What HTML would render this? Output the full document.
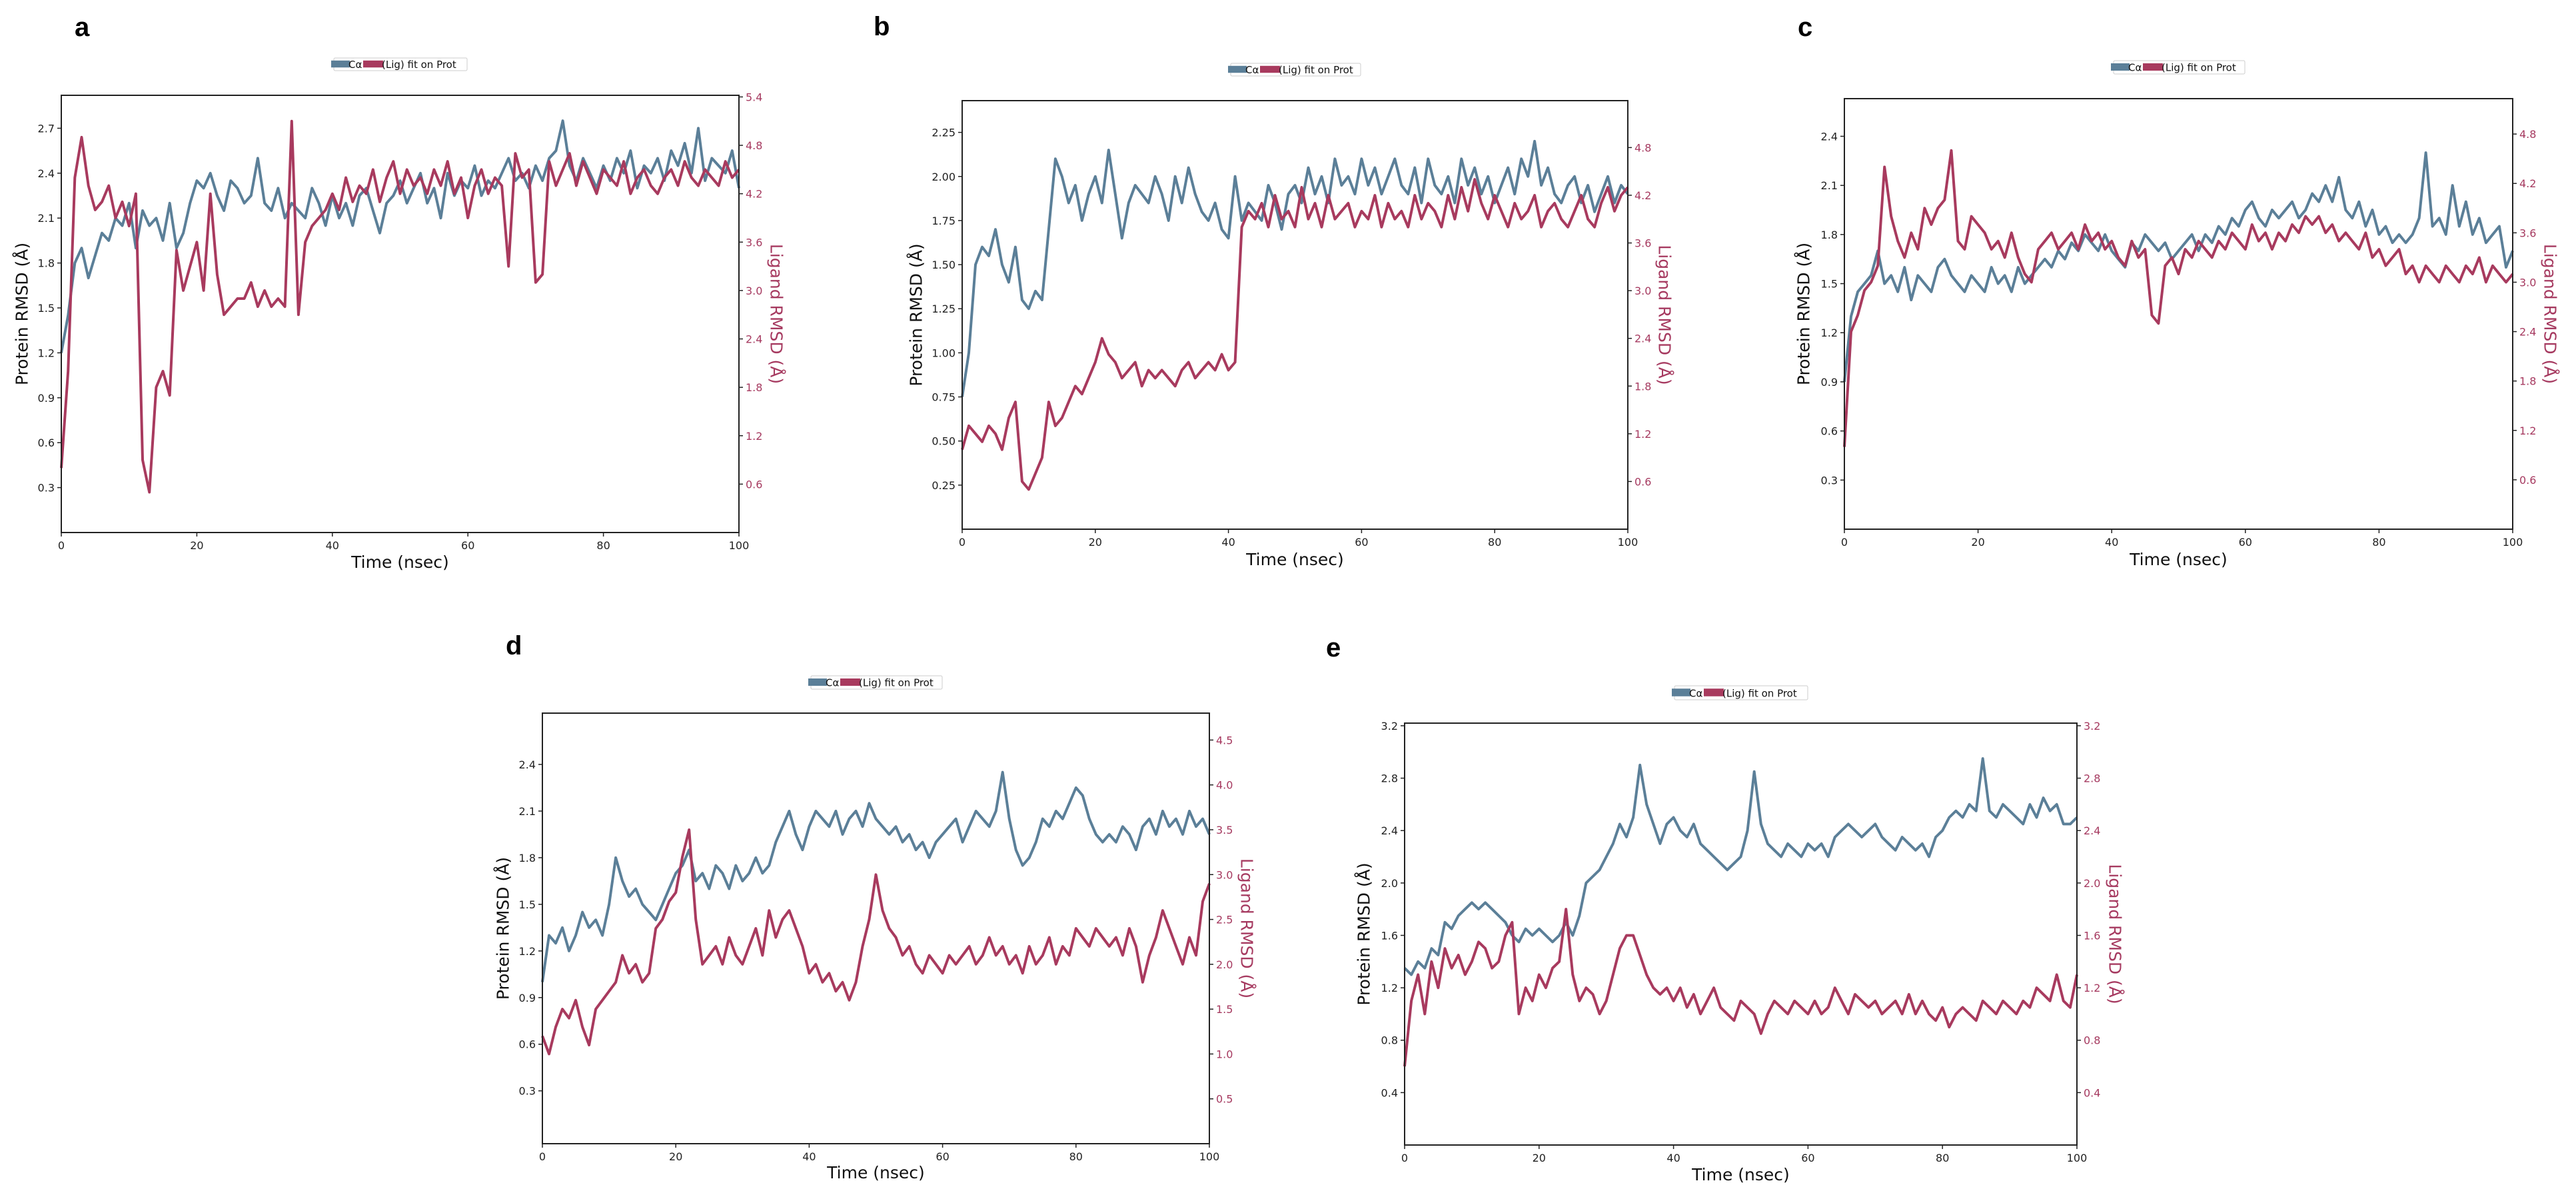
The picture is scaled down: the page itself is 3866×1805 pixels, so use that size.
<!DOCTYPE html>
<html><head><meta charset="utf-8">
<style>
html,body{margin:0;padding:0;background:#fff;}
svg{display:block;font-family:"DejaVu Sans","Liberation Sans",sans-serif;}
</style></head>
<body>
<svg id="fig" width="3866" height="1805" viewBox="0 0 3866 1805" xmlns="http://www.w3.org/2000/svg"></svg>
<script>
// ---- data (time in ns, 1 ns step) ----
const timeNs = Array.from({length:101},(_,i)=>i);
const protA = [1.2,1.45,1.8,1.9,1.7,1.85,2.0,1.95,2.1,2.05,2.2,1.9,2.15,2.05,2.1,1.95,2.2,1.9,2.0,2.2,2.35,2.3,2.4,2.25,2.15,2.35,2.3,2.2,2.25,2.5,2.2,2.15,2.3,2.1,2.2,2.15,2.1,2.3,2.2,2.05,2.25,2.1,2.2,2.05,2.25,2.3,2.15,2.0,2.2,2.25,2.35,2.2,2.3,2.4,2.2,2.3,2.1,2.4,2.25,2.35,2.3,2.45,2.25,2.35,2.3,2.4,2.5,2.35,2.4,2.3,2.45,2.35,2.5,2.55,2.75,2.45,2.35,2.5,2.4,2.3,2.45,2.35,2.5,2.4,2.55,2.3,2.45,2.4,2.5,2.35,2.55,2.45,2.6,2.4,2.7,2.35,2.5,2.45,2.4,2.55,2.3];
const ligA = [0.8,2.0,4.4,4.9,4.3,4.0,4.1,4.3,3.9,4.1,3.8,4.2,0.9,0.5,1.8,2.0,1.7,3.5,3.0,3.3,3.6,3.0,4.2,3.2,2.7,2.8,2.9,2.9,3.1,2.8,3.0,2.8,2.9,2.8,5.1,2.7,3.6,3.8,3.9,4.0,4.2,4.0,4.4,4.1,4.3,4.2,4.5,4.1,4.4,4.6,4.2,4.5,4.3,4.4,4.2,4.5,4.3,4.6,4.2,4.4,3.9,4.3,4.5,4.2,4.4,4.3,3.3,4.7,4.4,4.5,3.1,3.2,4.6,4.3,4.5,4.7,4.3,4.6,4.4,4.2,4.5,4.4,4.3,4.6,4.2,4.4,4.5,4.3,4.2,4.4,4.5,4.3,4.6,4.4,4.3,4.5,4.4,4.3,4.6,4.4,4.5];
const protB = [0.75,1.0,1.5,1.6,1.55,1.7,1.5,1.4,1.6,1.3,1.25,1.35,1.3,1.7,2.1,2.0,1.85,1.95,1.75,1.9,2.0,1.85,2.15,1.9,1.65,1.85,1.95,1.9,1.85,2.0,1.9,1.75,2.0,1.85,2.05,1.9,1.8,1.75,1.85,1.7,1.65,2.0,1.75,1.85,1.8,1.75,1.95,1.85,1.7,1.9,1.95,1.85,2.05,1.9,2.0,1.85,2.1,1.95,2.0,1.9,2.1,1.95,2.05,1.9,2.0,2.1,1.95,1.9,2.05,1.85,2.1,1.95,1.9,2.0,1.85,2.1,1.95,2.05,1.9,2.0,1.85,1.95,2.05,1.9,2.1,2.0,2.2,1.95,2.05,1.9,1.85,1.95,2.0,1.85,1.95,1.8,1.9,2.0,1.85,1.95,1.9];
const ligB = [1.0,1.3,1.2,1.1,1.3,1.2,1.0,1.4,1.6,0.6,0.5,0.7,0.9,1.6,1.3,1.4,1.6,1.8,1.7,1.9,2.1,2.4,2.2,2.1,1.9,2.0,2.1,1.8,2.0,1.9,2.0,1.9,1.8,2.0,2.1,1.9,2.0,2.1,2.0,2.2,2.0,2.1,3.8,4.0,3.9,4.1,3.8,4.2,3.9,4.0,3.8,4.3,3.9,4.1,3.8,4.2,3.9,4.0,4.1,3.8,4.0,3.9,4.2,3.8,4.1,3.9,4.0,3.8,4.2,3.9,4.1,4.0,3.8,4.2,3.9,4.3,4.0,4.4,4.1,3.9,4.2,4.0,3.8,4.1,3.9,4.0,4.2,3.8,4.0,4.1,3.9,3.8,4.0,4.2,3.9,3.8,4.1,4.3,4.0,4.2,4.3];
const protC = [0.9,1.3,1.45,1.5,1.55,1.7,1.5,1.55,1.45,1.6,1.4,1.55,1.5,1.45,1.6,1.65,1.55,1.5,1.45,1.55,1.5,1.45,1.6,1.5,1.55,1.45,1.6,1.5,1.55,1.6,1.65,1.6,1.7,1.65,1.75,1.7,1.8,1.75,1.7,1.8,1.7,1.65,1.6,1.75,1.7,1.8,1.75,1.7,1.75,1.65,1.7,1.75,1.8,1.7,1.8,1.75,1.85,1.8,1.9,1.85,1.95,2.0,1.9,1.85,1.95,1.9,1.95,2.0,1.9,1.95,2.05,2.0,2.1,2.0,2.15,1.95,1.9,2.0,1.85,1.95,1.8,1.85,1.75,1.8,1.75,1.8,1.9,2.3,1.85,1.9,1.8,2.1,1.85,2.0,1.8,1.9,1.75,1.8,1.85,1.6,1.7];
const ligC = [1.0,2.4,2.6,2.9,3.0,3.2,4.4,3.8,3.5,3.3,3.6,3.4,3.9,3.7,3.9,4.0,4.6,3.5,3.4,3.8,3.7,3.6,3.4,3.5,3.3,3.6,3.3,3.1,3.0,3.4,3.5,3.6,3.4,3.5,3.6,3.4,3.7,3.5,3.6,3.4,3.5,3.3,3.2,3.5,3.3,3.4,2.6,2.5,3.2,3.3,3.1,3.4,3.3,3.5,3.4,3.3,3.5,3.4,3.6,3.5,3.4,3.7,3.5,3.6,3.4,3.6,3.5,3.7,3.6,3.8,3.7,3.8,3.6,3.7,3.5,3.6,3.5,3.4,3.6,3.3,3.4,3.2,3.3,3.4,3.1,3.2,3.0,3.2,3.1,3.0,3.2,3.1,3.0,3.2,3.1,3.3,3.0,3.2,3.1,3.0,3.1];
const protD = [1.0,1.3,1.25,1.35,1.2,1.3,1.45,1.35,1.4,1.3,1.5,1.8,1.65,1.55,1.6,1.5,1.45,1.4,1.5,1.6,1.7,1.75,1.85,1.65,1.7,1.6,1.75,1.7,1.6,1.75,1.65,1.7,1.8,1.7,1.75,1.9,2.0,2.1,1.95,1.85,2.0,2.1,2.05,2.0,2.1,1.95,2.05,2.1,2.0,2.15,2.05,2.0,1.95,2.0,1.9,1.95,1.85,1.9,1.8,1.9,1.95,2.0,2.05,1.9,2.0,2.1,2.05,2.0,2.1,2.35,2.05,1.85,1.75,1.8,1.9,2.05,2.0,2.1,2.05,2.15,2.25,2.2,2.05,1.95,1.9,1.95,1.9,2.0,1.95,1.85,2.0,2.05,1.95,2.1,2.0,2.05,1.95,2.1,2.0,2.05,1.95];
const ligD = [1.2,1.0,1.3,1.5,1.4,1.6,1.3,1.1,1.5,1.6,1.7,1.8,2.1,1.9,2.0,1.8,1.9,2.4,2.5,2.7,2.8,3.2,3.5,2.5,2.0,2.1,2.2,2.0,2.3,2.1,2.0,2.2,2.4,2.1,2.6,2.3,2.5,2.6,2.4,2.2,1.9,2.0,1.8,1.9,1.7,1.8,1.6,1.8,2.2,2.5,3.0,2.6,2.4,2.3,2.1,2.2,2.0,1.9,2.1,2.0,1.9,2.1,2.0,2.1,2.2,2.0,2.1,2.3,2.1,2.2,2.0,2.1,1.9,2.2,2.0,2.1,2.3,2.0,2.2,2.1,2.4,2.3,2.2,2.4,2.3,2.2,2.3,2.1,2.4,2.2,1.8,2.1,2.3,2.6,2.4,2.2,2.0,2.3,2.1,2.7,2.9];
const protE = [1.35,1.3,1.4,1.35,1.5,1.45,1.7,1.65,1.75,1.8,1.85,1.8,1.85,1.8,1.75,1.7,1.6,1.55,1.65,1.6,1.65,1.6,1.55,1.6,1.7,1.6,1.75,2.0,2.05,2.1,2.2,2.3,2.45,2.35,2.5,2.9,2.6,2.45,2.3,2.45,2.5,2.4,2.35,2.45,2.3,2.25,2.2,2.15,2.1,2.15,2.2,2.4,2.85,2.45,2.3,2.25,2.2,2.3,2.25,2.2,2.3,2.25,2.3,2.2,2.35,2.4,2.45,2.4,2.35,2.4,2.45,2.35,2.3,2.25,2.35,2.3,2.25,2.3,2.2,2.35,2.4,2.5,2.55,2.5,2.6,2.55,2.95,2.55,2.5,2.6,2.55,2.5,2.45,2.6,2.5,2.65,2.55,2.6,2.45,2.45,2.5];
const ligE = [0.6,1.1,1.3,1.0,1.4,1.2,1.5,1.35,1.45,1.3,1.4,1.55,1.5,1.35,1.4,1.6,1.7,1.0,1.2,1.1,1.3,1.2,1.35,1.4,1.8,1.3,1.1,1.2,1.15,1.0,1.1,1.3,1.5,1.6,1.6,1.45,1.3,1.2,1.15,1.2,1.1,1.2,1.05,1.15,1.0,1.1,1.2,1.05,1.0,0.95,1.1,1.05,1.0,0.85,1.0,1.1,1.05,1.0,1.1,1.05,1.0,1.1,1.0,1.05,1.2,1.1,1.0,1.15,1.1,1.05,1.1,1.0,1.05,1.1,1.0,1.15,1.0,1.1,1.0,0.95,1.05,0.9,1.0,1.05,1.0,0.95,1.1,1.05,1.0,1.1,1.05,1.0,1.1,1.05,1.2,1.15,1.1,1.3,1.1,1.05,1.3];
const xTicks = [0,20,40,60,80,100];
const leftTicksA = [0.3,0.6,0.9,1.2,1.5,1.8,2.1,2.4,2.7];
const rightTicksA = [0.6,1.2,1.8,2.4,3.0,3.6,4.2,4.8,5.4];
const leftTicksB = [0.25,0.5,0.75,1.0,1.25,1.5,1.75,2.0,2.25];
const rightTicksB = [0.6,1.2,1.8,2.4,3.0,3.6,4.2,4.8];
const leftTicksC = [0.3,0.6,0.9,1.2,1.5,1.8,2.1,2.4];
const rightTicksC = [0.6,1.2,1.8,2.4,3.0,3.6,4.2,4.8];
const leftTicksD = [0.3,0.6,0.9,1.2,1.5,1.8,2.1,2.4];
const rightTicksD = [0.5,1.0,1.5,2.0,2.5,3.0,3.5,4.0,4.5];
const leftTicksE = [0.4,0.8,1.2,1.6,2.0,2.4,2.8,3.2];
const rightTicksE = [0.4,0.8,1.2,1.6,2.0,2.4,2.8,3.2];

const BLUE="#5b7f98", RED="#a83a5e", REDTXT="#a63a60";
const NS="http://www.w3.org/2000/svg";
const svg=document.getElementById('fig');
function mk(tag,attrs,parent){const e=document.createElementNS(NS,tag);for(const k in attrs)e.setAttribute(k,attrs[k]);(parent||svg).appendChild(e);return e;}

const panels=[
 {id:'a',L:92,R:1109,T:143,B:799,yl:[0,2.92],yr:[0,5.42],lt:leftTicksA,rt:rightTicksA,dec:1,letter:[112,54],leg:[497,87,701,106],px:33,lx:1165,ty:852,p:protA,l:ligA},
 {id:'b',L:1444,R:2443,T:151,B:794,yl:[0,2.43],yr:[0,5.39],lt:leftTicksB,rt:rightTicksB,dec:2,letter:[1311,53],leg:[1843,95,2042,114],px:1375,lx:2498,ty:848,p:protB,l:ligB},
 {id:'c',L:2768,R:3771,T:148,B:794,yl:[0,2.63],yr:[0,5.23],lt:leftTicksC,rt:rightTicksC,dec:1,letter:[2698,54],leg:[3168,91,3369,111],px:2707,lx:3827,ty:848,p:protC,l:ligC},
 {id:'d',L:814,R:1815,T:1070,B:1716,yl:[-0.04,2.73],yr:[0,4.8],lt:leftTicksD,rt:rightTicksD,dec:1,letter:[759,982],leg:[1213,1014,1414,1034],px:755,lx:1871,ty:1768,p:protD,l:ligD},
 {id:'e',L:2108,R:3117,T:1085,B:1718,yl:[0,3.22],yr:[0,3.22],lt:leftTicksE,rt:rightTicksE,dec:1,letter:[1990,985],leg:[2509,1029,2713,1050],px:2047,lx:3174,ty:1771,p:protE,l:ligE}
];

panels.forEach(P=>{
  const g=mk('g',{});
  
  
  const xS=t=>P.L+(t-0)/(100-0)*(P.R-P.L);
  const yL=v=>P.B-(v-P.yl[0])/(P.yl[1]-P.yl[0])*(P.B-P.T);
  const yR=v=>P.B-(v-P.yr[0])/(P.yr[1]-P.yr[0])*(P.B-P.T);
  const lt=mk('text',{x:P.letter[0],y:P.letter[1],'font-family':'Liberation Sans, sans-serif','font-weight':'bold','font-size':40,fill:'#000'},g);
  lt.textContent=P.id;
  
  
  const pp=P.p.map((v,i)=>xS(timeNs[i]).toFixed(1)+','+yL(v).toFixed(1)).join(' ');
  const pl=mk('polyline',{points:pp,fill:'none',stroke:BLUE,'stroke-width':4,'stroke-linejoin':'round'},g);
  
  
  const lp=P.l.map((v,i)=>xS(timeNs[i]).toFixed(1)+','+yR(v).toFixed(1)).join(' ');
  const ll=mk('polyline',{points:lp,fill:'none',stroke:RED,'stroke-width':4,'stroke-linejoin':'round'},g);
  
  
  const fr=mk('rect',{x:P.L,y:P.T,width:P.R-P.L,height:P.B-P.T,fill:'none',stroke:'#222','stroke-width':2},g);
  
  
  xTicks.forEach(t=>{
    const x=xS(t);
    mk('line',{x1:x,y1:P.B,x2:x,y2:P.B+6,stroke:'#222','stroke-width':1.5},g);
    const tx=mk('text',{x:x,y:P.B+25,'text-anchor':'middle','font-size':16,fill:'#222'},g);
    tx.textContent=t;
    
    
  });
  P.lt.forEach(v=>{
    const y=yL(v);
    mk('line',{x1:P.L-6,y1:y,x2:P.L,y2:y,stroke:'#222','stroke-width':1.5},g);
    const tx=mk('text',{x:P.L-10,y:y+6,'text-anchor':'end','font-size':16,fill:'#222'},g);
    tx.textContent=v.toFixed(P.dec);
    
    
  });
  P.rt.forEach(v=>{
    const y=yR(v);
    mk('line',{x1:P.R,y1:y,x2:P.R+6,y2:y,stroke:'#222','stroke-width':1.5},g);
    const tx=mk('text',{x:P.R+10,y:y+6,'font-size':16,fill:REDTXT},g);
    tx.textContent=v.toFixed(1);
    
    
  });
  const xt=mk('text',{x:(P.L+P.R)/2,y:P.ty,'text-anchor':'middle','font-size':25,fill:'#111'},g);
  xt.textContent='Time (nsec)';
  
  
  const my=(P.T+P.B)/2;
  const pt=mk('text',{x:P.px,y:my,'text-anchor':'middle','font-size':25,fill:'#111','dominant-baseline':'central',transform:`rotate(-90 ${P.px} ${my})`},g);
  pt.textContent='Protein RMSD (Å)';
  
  
  const rt=mk('text',{x:P.lx,y:my,'text-anchor':'middle','font-size':25,fill:REDTXT,'dominant-baseline':'central',transform:`rotate(90 ${P.lx} ${my})`},g);
  rt.textContent='Ligand RMSD (Å)';
  
  
  const [x0,y0,x1,y1]=P.leg;
  const lg=mk('g',{},g);
  
  
  mk('rect',{x:x0+4,y:y0,width:x1-x0-4,height:y1-y0,rx:2,fill:'#fff',stroke:'#ccc','stroke-width':1},lg);
  const h=y1-y0;
  mk('rect',{x:x0,y:y0+h*0.2,width:28,height:h*0.55,fill:BLUE},lg);
  const t1=mk('text',{x:x0+26,y:y0+h*0.78,'font-size':15,fill:'#111'},lg);
  t1.textContent='Cα';
  
  
  mk('rect',{x:x0+48,y:y0+h*0.2,width:30,height:h*0.55,fill:RED},lg);
  const t2=mk('text',{x:x0+76,y:y0+h*0.78,'font-size':15,fill:'#111'},lg);
  t2.textContent='(Lig) fit on Prot';
  
  
});
</script>
</body></html>
